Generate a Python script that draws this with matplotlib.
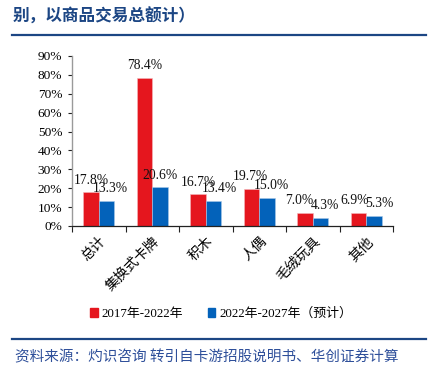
import numpy as np
import matplotlib
matplotlib.use('Agg')
from matplotlib import pyplot as plt
from matplotlib.lines import Line2D
from matplotlib.patches import Patch

plt.rcParams['font.family'] = ['Liberation Serif', 'Noto Sans CJK SC']

categories = ['总计', '集换式卡牌', '积木', '人偶', '毛绒玩具', '其他']
cagr_2017_2022 = [17.8, 78.4, 16.7, 19.7, 7.0, 6.9]
cagr_2022_2027 = [13.3, 20.6, 13.4, 15.0, 4.3, 5.3]
series_names = ['2017年-2022年', '2022年-2027年（预计）']

# small horizontal nudges of the value labels (points), as in the original
nudge_red = [0, 0, 0, -1, -4.5, -3]
nudge_blue = [3, 0, 4, 3.5, 3.5, 4]

red = '#E5161E'
blue = '#0362BA'
navy = '#1C4684'

fig = plt.figure(figsize=(4.34, 3.75), dpi=100)
ax = fig.add_axes([72 / 434, 1 - 226 / 375, 321 / 434, 170 / 375])

x = np.arange(len(categories))
w = 0.286
b1 = ax.bar(x - w / 2, cagr_2017_2022, w, color=red, edgecolor='#F4B8BB', linewidth=0.4)
b2 = ax.bar(x + w / 2, cagr_2022_2027, w, color=blue, edgecolor='#A9C8E8', linewidth=0.4)

for bars, vals, nudge in [(b1, cagr_2017_2022, nudge_red), (b2, cagr_2022_2027, nudge_blue)]:
    for r, v, dx in zip(bars, vals, nudge):
        ax.annotate('%.1f%%' % v, (r.get_x() + r.get_width() / 2, v),
                    xytext=(dx, 4), textcoords='offset points',
                    ha='center', va='bottom', fontsize=9.8, color='#111111')

ax.set_xlim(-0.5, len(categories) - 0.5)
ax.set_ylim(0, 90)
ax.set_yticks(np.arange(0, 91, 10))
ax.set_yticklabels(['%d%%' % t for t in range(0, 91, 10)], fontsize=9.6)
ax.set_xticks(x)
ax.set_xticklabels(categories, rotation=45, ha='right', rotation_mode='anchor',
                   fontsize=10, family=['Noto Sans CJK SC'])
ax.tick_params(axis='x', which='major', length=0, pad=6)
ax.set_xticks(np.arange(-0.5, len(categories)), minor=True)
ax.tick_params(axis='x', which='minor', length=4, width=0.8, color='#222222')
ax.tick_params(axis='y', length=3, width=0.8, color='#222222', pad=4)
for s in ['top', 'right']:
    ax.spines[s].set_visible(False)
ax.spines['left'].set_color('#9A9A9A')
ax.spines['left'].set_linewidth(1.0)
ax.spines['bottom'].set_color('#222222')
ax.spines['bottom'].set_linewidth(0.9)

handles = [Patch(color=red), Patch(color=blue)]
fig.legend(handles, series_names, loc='center', bbox_to_anchor=(221 / 434, 1 - 314 / 375),
           ncol=2, frameon=False, fontsize=9.3, handlelength=0.6, handleheight=0.6,
           handletextpad=0.3, columnspacing=1.9)

# header and footer
fig.text(13 / 434, 1 - 17 / 375, '别，以商品交易总额计）', fontsize=12, fontweight='bold',
         color=navy, va='center', family=['Noto Sans CJK SC'])
fig.add_artist(Line2D([12 / 434, 426 / 434], [1 - 35 / 375] * 2, color=navy, lw=1.6))
fig.add_artist(Line2D([12 / 434, 426 / 434], [1 - 339 / 375] * 2, color=navy, lw=1.6))
fig.text(15 / 434, 1 - 357 / 375, '资料来源：灼识咨询 转引自卡游招股说明书、华创证券计算', fontsize=10.5,
         style='italic', color='#2E4F9A', va='center', family=['Noto Sans CJK SC'])

fig.savefig('out.png', dpi=100)
